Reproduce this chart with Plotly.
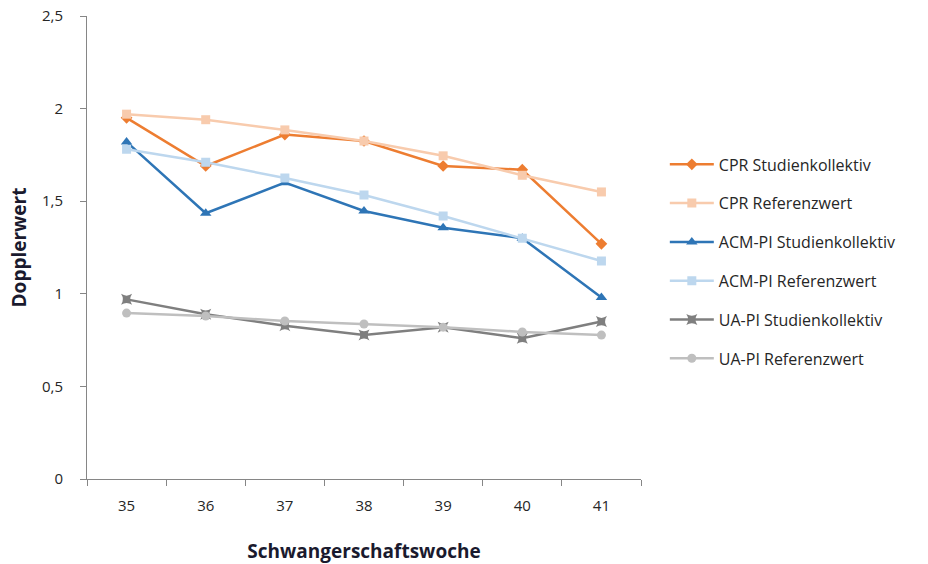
import plotly.graph_objects as go

weeks = ["35", "36", "37", "38", "39", "40", "41"]

cpr_studien = [1.95, 1.69, 1.86, 1.825, 1.69, 1.67, 1.27]
cpr_referenz = [1.97, 1.94, 1.885, 1.825, 1.745, 1.64, 1.55]
acm_studien = [1.82, 1.435, 1.60, 1.447, 1.357, 1.30, 0.98]
acm_referenz = [1.78, 1.71, 1.625, 1.533, 1.42, 1.30, 1.177]
ua_studien = [0.97, 0.89, 0.828, 0.778, 0.82, 0.76, 0.85]
ua_referenz = [0.896, 0.88, 0.853, 0.837, 0.82, 0.794, 0.777]

series = [
    ("CPR Studienkollektiv", cpr_studien, "#ED7D31", "diamond", 9),
    ("CPR Referenzwert", cpr_referenz, "#F8CBAD", "square", 9),
    ("ACM-PI Studienkollektiv", acm_studien, "#2E75B6", "triangle-up", 10),
    ("ACM-PI Referenzwert", acm_referenz, "#BDD7EE", "square-x", 9),
    ("UA-PI Studienkollektiv", ua_studien, "#7F7F7F", "star-square", 10),
    ("UA-PI Referenzwert", ua_referenz, "#BFBFBF", "circle", 9),
]

fig = go.Figure()
for i, (name, vals, color, symbol, size) in enumerate(series):
    fig.add_trace(go.Scatter(
        x=weeks, y=vals, name=name, mode="lines+markers",
        line=dict(color=color, width=2.5),
        marker=dict(symbol=symbol, size=size, color=color,
                    line=dict(width=0)),
        legendgroup=str(i),
    ))

axis_line = "#868686"
fig.update_layout(
    width=928, height=564,
    margin=dict(l=87, r=287, t=16, b=85, autoexpand=False),
    paper_bgcolor="white", plot_bgcolor="white",
    separators=", ",
    font=dict(family="Open Sans, Liberation Sans, sans-serif", size=15, color="#262626"),
    showlegend=True,
    legend=dict(
        x=1.043, xanchor="left", xref="paper", y=0.470, yanchor="middle",
        tracegroupgap=15,
        font=dict(size=16, color="#262626"),
        itemwidth=44,
        bgcolor="rgba(0,0,0,0)",
    ),
    xaxis=dict(
        type="category", range=[-0.5, 6.5], automargin=False,
        showline=True, linecolor=axis_line, linewidth=1,
        ticks="outside", tickson="boundaries", ticklen=6, tickcolor=axis_line,
        showgrid=False, zeroline=False,
        ticklabelstandoff=13,
        tickfont=dict(size=15, color="#262626"),
        title=dict(text="<b>Schwangerschaftswoche</b>",
                   font=dict(size=19, color="#1a1a2e"), standoff=30),
    ),
    yaxis=dict(
        range=[0, 2.5], dtick=0.5, tick0=0, automargin=False,
        showline=True, linecolor=axis_line, linewidth=1,
        ticks="outside", ticklen=6, tickcolor=axis_line,
        showgrid=False, zeroline=False,
        ticklabelstandoff=14,
        tickfont=dict(size=15, color="#262626"),
        title=dict(text="<b>Dopplerwert</b>",
                   font=dict(size=19, color="#1a1a2e"), standoff=10),
    ),
)

fig.write_html("out.html")
